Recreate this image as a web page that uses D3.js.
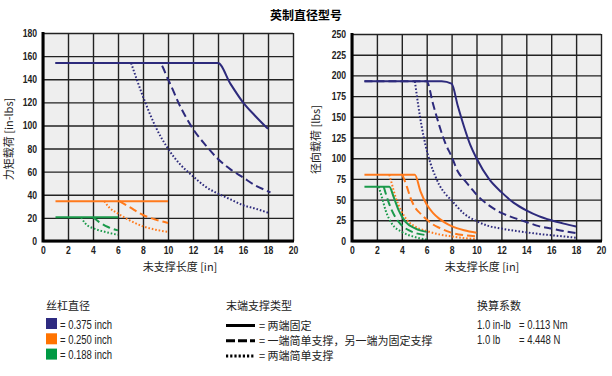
<!DOCTYPE html>
<html>
<head>
<meta charset="utf-8">
<script src="https://cdn.jsdelivr.net/npm/d3@7"></script>
<style>
  body { margin: 0; background: #fff; }
  svg text { font-family: "Noto Sans CJK SC", "Liberation Sans", sans-serif; }
  .num { font-family: "Liberation Sans", "Noto Sans", sans-serif; }
</style>
</head>
<body>
<svg id="chart" width="612" height="376"></svg>
<script>
// ── Data ──
const xTicks = [0, 2, 4, 6, 8, 10, 12, 14, 16, 18, 20];
const torqueTicks = [0, 20, 40, 60, 80, 100, 120, 140, 160, 180];
const radialTicks = [0, 25, 50, 75, 100, 125, 150, 175, 200, 225, 250];

// moment load [in-lbs] vs unsupported length [in]
const torque375Fixed  = [[1,154],[14,154],[15,136],[16,120],[17,108],[18,97]];
const torque375Mixed  = [[1,154],[9.3,154],[10,140],[11,116],[12,97],[13,83],[14,71],[15,62],[16,55],[17,48],[18,43],[18.2,42]];
const torque375Simple = [[7.05,154],[8,125],[9,99],[10,80],[11,66],[12,56],[13,47],[14,41],[15,36],[16,31],[17,28],[18,24.5]];
const torque250Fixed  = [[1,34.5],[10,34.5]];
const torque250Mixed  = [[6.1,34.5],[6.9,29.5],[8,22.5],[9,18.5],[10,15.6]];
const torque250Simple = [[4.9,34.5],[5.3,29],[6,23.7],[6.9,18],[8,12.7],[9,9.8],[10,7.8]];
const torque188Fixed  = [[1,20.5],[6,20.5]];
const torque188Mixed  = [[4,20.5],[4.5,16.4],[5.2,12.1],[6,9.2]];
const torque188Simple = [[3.05,20.5],[3.4,15],[4.1,10.7],[5,7.8],[6,5.3]];

// radial load [lbs] vs unsupported length [in]
const radial375Fixed  = [[1,193],[7.2,193],[8,190],[8.5,163],[9,138],[9.5,116],[10,100],[11,75],[12,59],[13,46],[14,37],[15,30],[16,25],[17,21],[18,17.5]];
const radial375Mixed  = [[1,193],[6,193],[6.5,166],[7,140],[7.5,118],[8,102],[8.5,84],[9,74],[9.5,65],[10,56],[11,43],[12,34],[13,28],[14,23],[15,18],[16,15],[17,12],[18,9.5]];
const radial375Simple = [[5.05,193],[5.3,166],[5.6,138],[5.9,116],[6.3,94],[6.7,78],[7,68],[7.5,57],[8,49],[9,33],[10,24],[11,18],[12,15],[13,12.5],[14,10.5],[15,8.5],[16,7],[17,5.5],[18,4]];
const radial250Fixed  = [[1,80],[5.05,80],[5.5,60],[6,44],[6.5,34],[7,27],[7.5,22],[8,18],[9,13],[10,10]];
const radial250Mixed  = [[4.05,80],[4.4,66],[4.7,52],[5,42],[5.5,33],[6,26],[6.5,20],[7,16],[8,10],[9,7],[10,5.5]];
const radial250Simple = [[3,80],[3.2,69],[3.5,53],[3.9,38],[4.5,24],[5,18],[6,12],[7,8],[8,5.5],[9,3.5],[10,2.5]];
const radial188Fixed  = [[1,65.5],[3,65.5],[3.35,53],[3.75,37],[4.3,23],[5.1,15],[6,11]];
const radial188Mixed  = [[2.55,65.5],[2.8,53],[3.2,37],[3.75,23],[4.55,13],[6,7]];
const radial188Simple = [[2.15,65.5],[2.4,53],[2.7,37],[3.2,21],[4,11],[5,5],[6,1.7]];

const diameters = ['= 0.375 inch', '= 0.250 inch', '= 0.188 inch'];
const supportTypes = ['= 两端固定', '= 一端简单支撑，另一端为固定支撑', '= 两端简单支撑'];
const conversions = [['1.0 in-lb', '= 0.113 Nm'], ['1.0 lb', '= 4.448 N']];

const colors = ['#2d2a7c', '#ff7a1c', '#1b9a4b'];
const swatch = ['#2e2a80', '#ff7300', '#009a44'];
const dashes = [null, '8,4', '1.6,1.9'];

const svg = d3.select('#chart');

svg.append('text').attr('x', 306).attr('y', 20)
  .attr('text-anchor', 'middle').attr('font-size', 12).attr('font-weight', 'bold')
  .text('英制直径型号');

function drawPanel(x, y, yTicks, series, yLabel, yLabelX, xLabelX) {
  const [x0, x1] = x.range();
  const [y0, y1] = y.range();

  svg.append('rect')
    .attr('x', x0).attr('y', y1).attr('width', x1 - x0).attr('height', y0 - y1)
    .attr('fill', '#eeeeee');

  // Grid
  const gy = svg.append('g').attr('transform', `translate(${x0},0)`)
    .call(d3.axisLeft(y).tickValues(yTicks).tickSize(-(x1 - x0)).tickPadding(6));
  const gx = svg.append('g').attr('transform', `translate(0,${y0})`)
    .call(d3.axisBottom(x).tickValues(xTicks).tickSize(-(y0 - y1)).tickPadding(5));
  [gy, gx].forEach(g => {
    g.select('.domain').remove();
    g.selectAll('line').attr('stroke', '#222').attr('stroke-width', 1.4);
    g.selectAll('text').attr('class', 'num tick')
      .attr('font-size', 11).attr('font-weight', 'bold').attr('fill', '#222');
  });

  // Curves
  const line = d3.line().x(d => x(d[0])).y(d => y(d[1])).curve(d3.curveMonotoneX);
  series.forEach((s, i) => {
    svg.append('path').datum(s)
      .attr('fill', 'none')
      .attr('stroke', colors[Math.floor(i / 3)])
      .attr('stroke-width', 2)
      .attr('stroke-dasharray', dashes[i % 3])
      .attr('d', line);
  });

  // Thick axes
  svg.append('path')
    .attr('d', `M${x0},${y1 - 1}V${y0}H${x1 + 1}`)
    .attr('fill', 'none').attr('stroke', '#000').attr('stroke-width', 3);

  svg.append('text')
    .attr('transform', `translate(${yLabelX},${(y0 + y1) / 2 + 2}) rotate(-90)`)
    .attr('text-anchor', 'middle').attr('font-size', 11).attr('fill', '#222')
    .text(yLabel);
  svg.append('text').attr('x', xLabelX).attr('y', 271)
    .attr('text-anchor', 'middle').attr('font-size', 11).attr('fill', '#222')
    .text('未支撑长度 [in]');
}

drawPanel(
  d3.scaleLinear().domain([0, 20]).range([43, 293]),
  d3.scaleLinear().domain([0, 180]).range([241, 33]),
  torqueTicks,
  [torque375Fixed, torque375Mixed, torque375Simple,
   torque250Fixed, torque250Mixed, torque250Simple,
   torque188Fixed, torque188Mixed, torque188Simple],
  '力矩载荷 [in-lbs]', 13, 180);

drawPanel(
  d3.scaleLinear().domain([0, 20]).range([352, 601]),
  d3.scaleLinear().domain([0, 250]).range([241, 34]),
  radialTicks,
  [radial375Fixed, radial375Mixed, radial375Simple,
   radial250Fixed, radial250Mixed, radial250Simple,
   radial188Fixed, radial188Mixed, radial188Simple],
  '径向载荷 [lbs]', 320, 482);

// ── Legend ──
const leg = svg.append('g').attr('fill', '#222');
leg.append('text').attr('x', 46).attr('y', 310).attr('font-size', 11).text('丝杠直径');
diameters.forEach((d, i) => {
  leg.append('rect').attr('x', 46).attr('y', 318 + i * 15.3)
    .attr('width', 11).attr('height', 11).attr('fill', swatch[i]);
  leg.append('text').attr('class', 'num').attr('x', 60).attr('y', 328.5 + i * 15.3)
    .attr('font-size', 12).text(d);
});

leg.append('text').attr('x', 226).attr('y', 310).attr('font-size', 11).text('末端支撑类型');
supportTypes.forEach((d, i) => {
  leg.append('line').attr('x1', 226).attr('x2', 255)
    .attr('y1', 325.5 + i * 15.3).attr('y2', 325.5 + i * 15.3)
    .attr('stroke', '#000').attr('stroke-width', 3)
    .attr('stroke-dasharray', i === 0 ? null : (i === 1 ? '9,3' : '2.2,2'));
  leg.append('text').attr('x', 259).attr('y', 329.5 + i * 15.3)
    .attr('font-size', 11).text(d);
});

leg.append('text').attr('x', 477).attr('y', 310).attr('font-size', 11).text('换算系数');
conversions.forEach((c, i) => {
  leg.append('text').attr('class', 'num').attr('x', 477).attr('y', 329 + i * 15.3)
    .attr('font-size', 12).text(c[0]);
  leg.append('text').attr('class', 'num').attr('x', 519).attr('y', 329 + i * 15.3)
    .attr('font-size', 12).text(c[1]);
});

// narrow look for the Latin labels (no condensed face installed)
svg.selectAll('text.num').each(function() {
  const w = this.getComputedTextLength();
  const k = this.classList.contains('tick') ? 0.78 : 0.79;
  d3.select(this).attr('textLength', w * k).attr('lengthAdjust', 'spacingAndGlyphs');
});
</script>
</body>
</html>
